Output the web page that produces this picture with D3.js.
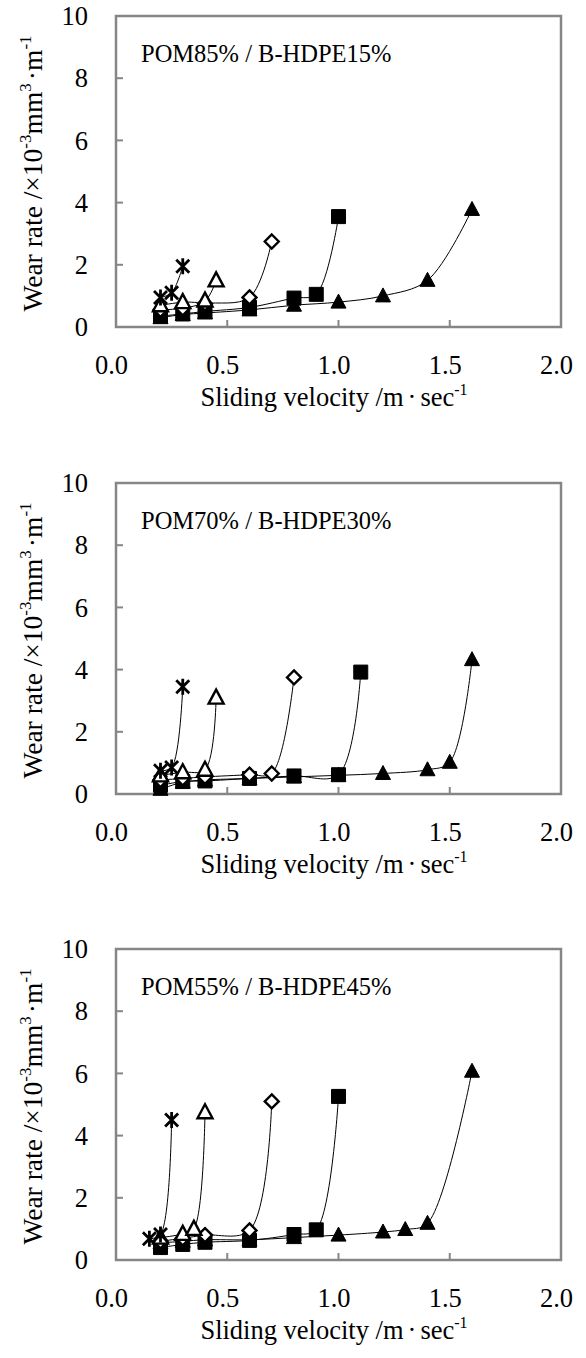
<!DOCTYPE html>
<html>
<head>
<meta charset="utf-8">
<script src="https://cdn.jsdelivr.net/npm/d3@7"></script>
<style>
  body { margin: 0; background: #fff; }
  text { font-family: "Liberation Serif", "Times New Roman", serif; fill: #000; }
</style>
</head>
<body>
<div id="chart"></div>
<script>
// panel titles and ticks
const titles = ["POM85% / B-HDPE15%", "POM70% / B-HDPE30%", "POM55% / B-HDPE45%"];
const xTicks = [0.0, 0.5, 1.0, 1.5, 2.0];
const yTicks = [0, 2, 4, 6, 8, 10];

// panel 1 : POM85% / B-HDPE15%
const star1_v = [0.2, 0.25, 0.3],              star1_w = [0.95, 1.1, 1.95];
const otri1_v = [0.2, 0.3, 0.4, 0.45],         otri1_w = [0.7, 0.8, 0.85, 1.5];
const dia1_v  = [0.2, 0.3, 0.4, 0.6, 0.7],     dia1_w  = [0.55, 0.6, 0.75, 0.95, 2.75];
const sq1_v   = [0.2, 0.3, 0.4, 0.6, 0.8, 0.9, 1.0],
      sq1_w   = [0.35, 0.42, 0.5, 0.63, 0.93, 1.05, 3.55];
const ftri1_v = [0.2, 0.3, 0.4, 0.6, 0.8, 1.0, 1.2, 1.4, 1.6],
      ftri1_w = [0.3, 0.4, 0.45, 0.55, 0.7, 0.8, 1.0, 1.5, 3.78];

// panel 2 : POM70% / B-HDPE30%
const star2_v = [0.2, 0.25, 0.3],              star2_w = [0.75, 0.85, 3.45];
const otri2_v = [0.2, 0.3, 0.4, 0.45],         otri2_w = [0.6, 0.7, 0.78, 3.1];
const dia2_v  = [0.2, 0.3, 0.4, 0.6, 0.7, 0.8], dia2_w = [0.45, 0.5, 0.55, 0.62, 0.66, 3.75];
const sq2_v   = [0.2, 0.3, 0.4, 0.6, 0.8, 1.0, 1.1],
      sq2_w   = [0.28, 0.4, 0.42, 0.5, 0.58, 0.62, 3.92];
const ftri2_v = [0.2, 0.3, 0.4, 0.6, 0.8, 1.0, 1.2, 1.4, 1.5, 1.6],
      ftri2_w = [0.15, 0.38, 0.45, 0.5, 0.55, 0.6, 0.66, 0.78, 1.02, 4.32];

// panel 3 : POM55% / B-HDPE45%
const star3_v = [0.15, 0.2, 0.25],             star3_w = [0.68, 0.82, 4.5];
const otri3_v = [0.2, 0.3, 0.35, 0.4],         otri3_w = [0.72, 0.84, 1.0, 4.75];
const dia3_v  = [0.2, 0.3, 0.4, 0.6, 0.7],     dia3_w  = [0.6, 0.7, 0.8, 0.95, 5.1];
const sq3_v   = [0.2, 0.3, 0.4, 0.6, 0.8, 0.9, 1.0],
      sq3_w   = [0.4, 0.5, 0.57, 0.63, 0.82, 0.97, 5.26];
const ftri3_v = [0.2, 0.3, 0.4, 0.6, 0.8, 1.0, 1.2, 1.3, 1.4, 1.6],
      ftri3_w = [0.55, 0.6, 0.65, 0.65, 0.72, 0.8, 0.9, 0.98, 1.18, 6.07];

const panelSeries = [
  [["ftri", ftri1_v, ftri1_w], ["sq", sq1_v, sq1_w], ["dia", dia1_v, dia1_w], ["otri", otri1_v, otri1_w], ["star", star1_v, star1_w]],
  [["ftri", ftri2_v, ftri2_w], ["sq", sq2_v, sq2_w], ["dia", dia2_v, dia2_w], ["otri", otri2_v, otri2_w], ["star", star2_v, star2_w]],
  [["ftri", ftri3_v, ftri3_w], ["sq", sq3_v, sq3_w], ["dia", dia3_v, dia3_w], ["otri", otri3_v, otri3_w], ["star", star3_v, star3_w]]
];

const width = 586, height = 1358;
const plotLeft = 116, plotRight = 561, plotH = 311;
const panelTops = [16, 483, 949];

const svg = d3.select("#chart").append("svg")
  .attr("width", width)
  .attr("height", height);

const x = d3.scaleLinear().domain([0, 2]).range([plotLeft, plotRight]);

// marker path generators
function markerPath(type) {
  if (type === "sq") return "M-7,-7H7V7H-7Z";
  if (type === "ftri" || type === "otri") return "M0,-8L7.5,6L-7.5,6Z";
  if (type === "dia") return "M0,-7L7,0L0,7L-7,0Z";
  return "M-6.5,-6.5L6.5,6.5M-6.5,6.5L6.5,-6.5M0,-8V8";
}

panelTops.forEach((top, pi) => {
  const y = d3.scaleLinear().domain([0, 10]).range([top + plotH, top]);
  const g = svg.append("g");

  // frame
  g.append("rect")
    .attr("x", plotLeft).attr("y", top)
    .attr("width", plotRight - plotLeft).attr("height", plotH)
    .attr("fill", "none").attr("stroke", "#868686").attr("stroke-width", 2.5);

  // y ticks (inside)
  g.selectAll(".ytick").data(yTicks.slice(1, -1)).join("line")
    .attr("x1", plotLeft).attr("x2", plotLeft + 7)
    .attr("y1", d => y(d)).attr("y2", d => y(d))
    .attr("stroke", "#868686").attr("stroke-width", 2);
  g.selectAll(".ylab").data(yTicks).join("text")
    .attr("x", 88).attr("y", d => y(d))
    .attr("dy", "0.35em")
    .attr("text-anchor", "end")
    .style("font-size", "26.5px")
    .text(d => d);

  // x ticks (inside)
  g.selectAll(".xtick").data(xTicks.slice(1, -1)).join("line")
    .attr("x1", d => x(d)).attr("x2", d => x(d))
    .attr("y1", top + plotH).attr("y2", top + plotH - 7)
    .attr("stroke", "#868686").attr("stroke-width", 2);
  g.selectAll(".xlab").data(xTicks).join("text")
    .attr("x", d => x(d) - 4.5).attr("y", top + plotH + 47)
    .attr("text-anchor", "middle")
    .style("font-size", "26.5px")
    .text(d => d.toFixed(1));

  // x title
  const xt = g.append("text")
    .attr("x", 334).attr("y", top + plotH + 79)
    .attr("text-anchor", "middle")
    .style("font-size", "26.5px");
  xt.append("tspan").text("Sliding velocity /m");
  xt.append("tspan").attr("dx", 4).text("·");
  xt.append("tspan").attr("dx", 4).text("sec");
  xt.append("tspan").attr("dy", -11).style("font-size", "16px").text("-1");

  // y title
  const yt = g.append("text")
    .attr("transform", `translate(42,${top + plotH / 2 + 2}) rotate(-90)`)
    .attr("text-anchor", "middle")
    .style("font-size", "27.5px");
  yt.append("tspan").text("Wear rate /×10");
  yt.append("tspan").attr("dy", -11).style("font-size", "17px").text("-3");
  yt.append("tspan").attr("dy", 11).text("mm");
  yt.append("tspan").attr("dy", -11).style("font-size", "17px").text("3");
  yt.append("tspan").attr("dy", 11).attr("dx", 3).text("·m");
  yt.append("tspan").attr("dy", -11).style("font-size", "17px").text("-1");

  // panel title
  g.append("text")
    .attr("x", 141).attr("y", top + 46)
    .style("font-size", "24.5px")
    .text(titles[pi]);

  const line = d3.line()
    .x(d => x(d[0]))
    .y(d => y(d[1]))
    .curve(d3.curveCatmullRom);

  panelSeries[pi].forEach(([type, v, w]) => {
    const pts = v.map((d, i) => [d, w[i]]);
    g.append("path")
      .datum(pts)
      .attr("d", line)
      .attr("fill", "none")
      .attr("stroke", "#000")
      .attr("stroke-width", 1);
    const filled = type === "sq" || type === "ftri";
    g.selectAll(null).data(pts).join("path")
      .attr("transform", d => `translate(${x(d[0])},${y(d[1])})`)
      .attr("d", markerPath(type))
      .attr("fill", type === "star" ? "none" : (filled ? "#000" : "#fff"))
      .attr("stroke", "#000")
      .attr("stroke-width", filled ? 1 : (type === "star" ? 2.8 : 2.4))
      .attr("stroke-linejoin", "miter");
  });
});
</script>
</body>
</html>
